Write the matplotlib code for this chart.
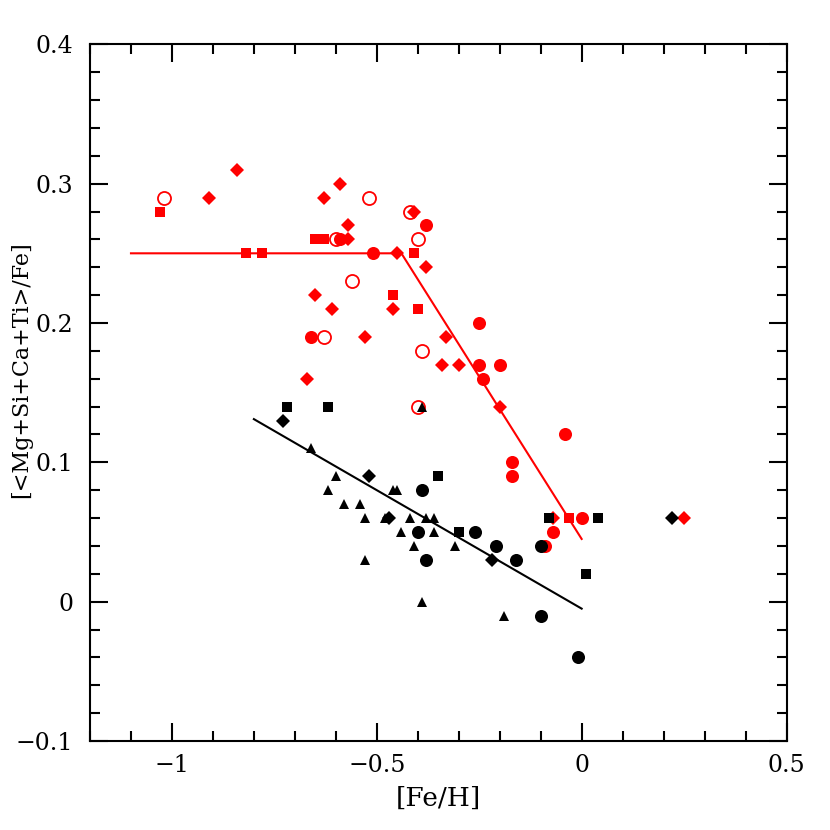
import matplotlib
matplotlib.use("Agg")
import matplotlib.pyplot as plt
from matplotlib.ticker import MultipleLocator, FixedFormatter, FixedLocator

# ---------------- data ----------------
# red (thick-disc-like) sample
red_sq_x = [-1.03, -0.82, -0.78, -0.65, -0.63, -0.41, -0.46, -0.40, -0.03]
red_sq_y = [0.28, 0.25, 0.25, 0.26, 0.26, 0.25, 0.22, 0.21, 0.06]

red_di_x = [-0.84, -0.91, -0.59, -0.63, -0.57, -0.57, -0.41, -0.45, -0.38, -0.65,
            -0.61, -0.46, -0.53, -0.33, -0.34, -0.30, -0.67, -0.20, -0.07, 0.25]
red_di_y = [0.31, 0.29, 0.30, 0.29, 0.27, 0.26, 0.28, 0.25, 0.24, 0.22,
            0.21, 0.21, 0.19, 0.19, 0.17, 0.17, 0.16, 0.14, 0.06, 0.06]

red_ci_x = [-0.59, -0.38, -0.51, -0.66, -0.25, -0.25, -0.20, -0.24, -0.17, -0.17,
            -0.04, 0.00, -0.07, -0.09]
red_ci_y = [0.26, 0.27, 0.25, 0.19, 0.20, 0.17, 0.17, 0.16, 0.10, 0.09,
            0.12, 0.06, 0.05, 0.04]

red_oc_x = [-1.02, -0.52, -0.42, -0.40, -0.60, -0.56, -0.63, -0.39, -0.40]
red_oc_y = [0.29, 0.29, 0.28, 0.26, 0.26, 0.23, 0.19, 0.18, 0.14]

# black (thin-disc-like) sample
blk_sq_x = [-0.72, -0.62, -0.35, -0.30, -0.08, 0.04, 0.01]
blk_sq_y = [0.14, 0.14, 0.09, 0.05, 0.06, 0.06, 0.02]

blk_di_x = [-0.73, -0.52, -0.47, -0.22, 0.22]
blk_di_y = [0.13, 0.09, 0.06, 0.03, 0.06]

blk_tr_x = [-0.39, -0.66, -0.60, -0.62, -0.46, -0.45, -0.58, -0.54, -0.53, -0.48,
            -0.42, -0.38, -0.36, -0.44, -0.36, -0.41, -0.31, -0.53, -0.39, -0.19]
blk_tr_y = [0.14, 0.11, 0.09, 0.08, 0.08, 0.08, 0.07, 0.07, 0.06, 0.06,
            0.06, 0.06, 0.06, 0.05, 0.05, 0.04, 0.04, 0.03, 0.00, -0.01]

blk_ci_x = [-0.39, -0.40, -0.26, -0.21, -0.10, -0.38, -0.16, -0.10, -0.01]
blk_ci_y = [0.08, 0.05, 0.05, 0.04, 0.04, 0.03, 0.03, -0.01, -0.04]

# fitted trend lines
red_line_x = [-1.10, -0.44, 0.00]
red_line_y = [0.25, 0.25, 0.045]
blk_line_x = [-0.80, 0.00]
blk_line_y = [0.131, -0.005]

x_ticks = [-1.0, -0.5, 0.0, 0.5]
x_ticklabels = ["\u22121", "\u22120.5", "0", "0.5"]
y_ticks = [-0.1, 0.0, 0.1, 0.2, 0.3, 0.4]
y_ticklabels = ["\u22120.1", "0", "0.1", "0.2", "0.3", "0.4"]

# ---------------- figure ----------------
plt.rcParams['font.family'] = ['DejaVu Serif']
fig = plt.figure(figsize=(8.3, 8.3), dpi=100)
ax = fig.add_axes([90 / 830, 89 / 830, 696.5 / 830, 696.7 / 830])

RED = '#ff0000'
ms_c, ms_s, ms_d, ms_t = 9.4, 6.5, 7.0, 7.8

ax.plot(red_line_x, red_line_y, color=RED, lw=1.5, zorder=2)
ax.plot(red_sq_x, red_sq_y, ls='none', marker='s', ms=ms_s, color=RED, mew=0, zorder=3)
ax.plot(red_di_x, red_di_y, ls='none', marker='D', ms=ms_d, color=RED, mew=0, zorder=3)
ax.plot(red_ci_x, red_ci_y, ls='none', marker='o', ms=ms_c, color=RED, mew=0, zorder=3)
ax.plot(red_oc_x, red_oc_y, ls='none', marker='o', ms=ms_c, mfc='none', mec=RED, mew=1.3, zorder=3)

ax.plot(blk_line_x, blk_line_y, color='black', lw=1.5, zorder=4)
ax.plot(blk_sq_x, blk_sq_y, ls='none', marker='s', ms=ms_s, color='black', mew=0, zorder=5)
ax.plot(blk_di_x, blk_di_y, ls='none', marker='D', ms=ms_d, color='black', mew=0, zorder=5)
ax.plot(blk_tr_x, blk_tr_y, ls='none', marker='^', ms=ms_t, color='black', mew=0, zorder=5)
ax.plot(blk_ci_x, blk_ci_y, ls='none', marker='o', ms=ms_c, color='black', mew=0, zorder=5)

ax.set_xlim(-1.2, 0.5)
ax.set_ylim(-0.1, 0.4)

ax.xaxis.set_major_locator(FixedLocator(x_ticks))
ax.xaxis.set_major_formatter(FixedFormatter(x_ticklabels))
ax.yaxis.set_major_locator(FixedLocator(y_ticks))
ax.yaxis.set_major_formatter(FixedFormatter(y_ticklabels))
ax.xaxis.set_minor_locator(MultipleLocator(0.1))
ax.yaxis.set_minor_locator(MultipleLocator(0.02))

ax.tick_params(which='both', direction='in', top=True, right=True, width=1.5, colors='black')
ax.tick_params(which='major', length=13, labelsize=17)
ax.tick_params(which='minor', length=7)
ax.tick_params(axis='x', which='major', pad=9)
ax.tick_params(axis='y', which='major', pad=12)
for sp in ax.spines.values():
    sp.set_linewidth(1.5)

ax.set_xlabel('[Fe/H]', fontsize=19)
ax.set_ylabel('[<Mg+Si+Ca+Ti>/Fe]', fontsize=16)
ax.xaxis.set_label_coords(0.5, -0.064)
ax.yaxis.set_label_coords(-0.083, 0.533)

fig.savefig('out.png', dpi=100)
